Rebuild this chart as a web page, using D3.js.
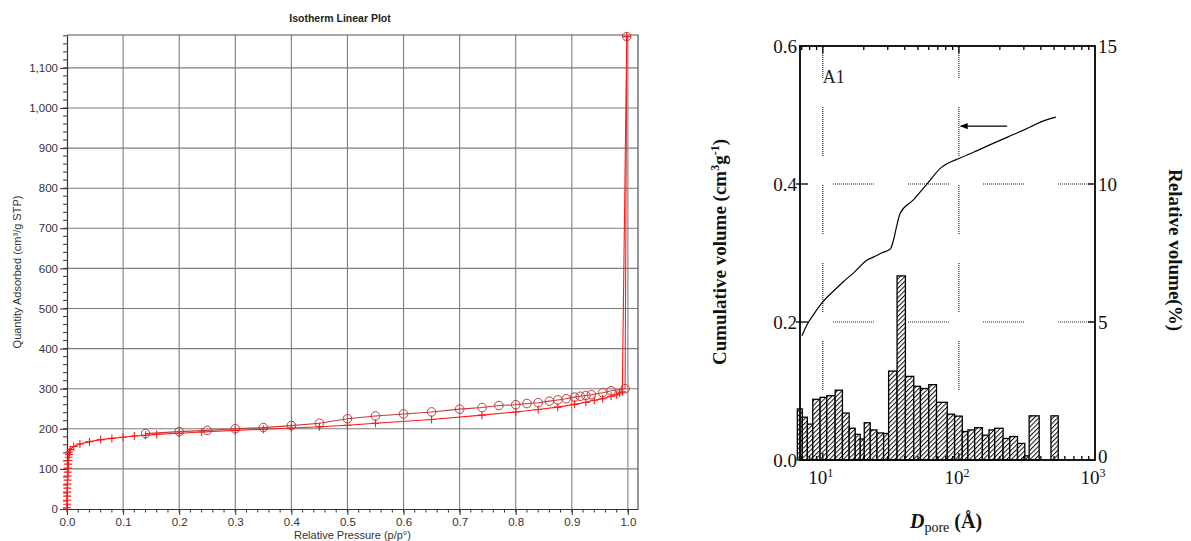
<!DOCTYPE html>
<html><head><meta charset="utf-8">
<script src="https://cdn.jsdelivr.net/npm/d3@7"></script>
<style>body{margin:0;background:#fff}</style>
</head><body><svg id="c" width="1191" height="541"></svg>
<script>
// ---------- DATA: Isotherm (left) ----------
const adsP = [0.0001,0.0002,0.0003,0.0004,0.0005,0.0006,0.0008,0.001,0.0012,0.0014,0.0017,0.002,0.0025,0.003,0.0035,0.004,0.006,0.012,0.023,0.04,0.06,0.08,0.10,0.12,0.14,0.16,0.20,0.24,0.30,0.35,0.40,0.45,0.50,0.55,0.65,0.74,0.80,0.84,0.875,0.905,0.925,0.94,0.955,0.97,0.98,0.985,0.99,0.998];
const adsQ = [3,12,22,32,42,52,62,72,82,92,102,112,121,129,136,142,148,156,162,168,173,176,179,182,184,186,189,192,196,199,202,205,209,214,223,234,242,248,254,261,266,271,275,281,285,289,292,1178];
const desP = [0.998,0.995,0.97,0.955,0.935,0.925,0.915,0.905,0.89,0.875,0.86,0.84,0.82,0.80,0.77,0.74,0.70,0.65,0.60,0.55,0.50,0.45,0.40,0.35,0.30,0.25,0.20,0.14];
const desQ = [1178,300,295,290,285,283,281,279,275,272,269,265,263,260,258,253,249,242,237,232,225,214,208,203,200,196,193,188];
const isoXTicks = [0,0.1,0.2,0.3,0.4,0.5,0.6,0.7,0.8,0.9,1.0];
const isoYTicks = [0,100,200,300,400,500,600,700,800,900,1000,1100];

// ---------- DATA: Pore size distribution (right) ----------
const binLo = [6.5,7.07,7.7,8.44,9.55,10.7,12.32,13.94,15.62,17.3,18.84,20.16,22.32,25.01,27.98,30.45,35.13,40.45,46.58,52.18,60.07,68.47,82.13,92.96,105.9,116.5,130.5,148.8,166.4,183.3,211.1,236.5,269.6,305.1,328.2,474.6];
const binHi = [7.07,7.7,8.44,9.55,10.7,12.32,13.94,15.62,17.3,18.84,20.16,22.32,25.01,27.98,30.45,35.13,40.45,46.58,52.18,60.07,68.47,82.13,92.96,105.9,116.5,130.5,148.8,166.4,183.3,211.1,236.5,269.6,305.1,328.2,388.9,537.0];
const relVol = [1.85,1.55,1.3,2.2,2.27,2.33,2.53,1.7,1.15,0.93,0.76,1.35,1.09,0.98,0.96,3.22,6.67,3.03,2.67,2.59,2.73,2.09,1.66,1.59,1.03,1.09,1.17,0.9,1.09,1.15,0.78,0.85,0.6,0.15,1.6,1.6];
const cumD = [7.03,7.65,8.5,10,12,14.1,17,21.2,23.5,27,31.4,33,35,37.1,46.3,58.8,73.3,103,128,170,228,338,400,516];
const cumV = [0.18,0.196,0.21,0.229,0.245,0.258,0.272,0.29,0.294,0.30,0.306,0.318,0.34,0.358,0.377,0.401,0.423,0.438,0.446,0.457,0.468,0.483,0.49,0.497];
const cumTicks = [0,0.2,0.4,0.6];
const relTicks = [0,5,10,15];
const decadeTicks = [10,100,1000];
const gridD = [10,100];
const arrowFrom = [226,0.484], arrowTo = [103,0.484];

const svg = d3.select('#c');
const defs = svg.append('defs');

// ================= LEFT CHART =================
const sans = 'Liberation Sans, Arial, sans-serif';
const xI = d3.scaleLinear().domain([0,1.018]).range([67,638]);
const yI = d3.scaleLinear().domain([0,1182]).range([509,35]);
const gL = svg.append('g');
const gridCol = '#7d7d7d';
gL.selectAll('line.vg').data(isoXTicks.filter(d=>d>0)).join('line')
  .attr('x1',d=>xI(d)).attr('x2',d=>xI(d)).attr('y1',yI.range()[0]).attr('y2',yI.range()[1])
  .attr('stroke',gridCol).attr('stroke-width',1.1);
gL.selectAll('line.hg').data(isoYTicks.filter(d=>d>0)).join('line')
  .attr('x1',xI.range()[0]).attr('x2',xI.range()[1]).attr('y1',d=>yI(d)).attr('y2',d=>yI(d))
  .attr('stroke',gridCol).attr('stroke-width',1.1);
gL.append('path').attr('d',`M${xI.range()[0]},${yI.range()[1]}H${xI.range()[1]}V${yI.range()[0]}`)
  .attr('fill','none').attr('stroke','#555').attr('stroke-width',1.2);

const yMinor = d3.range(0,1181,20);
gL.selectAll('line.ym').data(yMinor).join('line')
  .attr('x1',xI(0)-4).attr('x2',xI(0)).attr('y1',d=>yI(d)).attr('y2',d=>yI(d)).attr('stroke','#333');
const xMinor = d3.range(0,1.0001,0.02);
gL.selectAll('line.xm').data(xMinor).join('line')
  .attr('x1',d=>xI(d)).attr('x2',d=>xI(d)).attr('y1',yI(0)).attr('y2',yI(0)+3.5).attr('stroke','#333');

const axX = gL.append('g').attr('transform',`translate(0,${yI(0)})`)
  .call(d3.axisBottom(xI).tickValues(isoXTicks).tickFormat(d3.format('.1f')).tickSize(6).tickSizeOuter(0).tickPadding(3));
const axY = gL.append('g').attr('transform',`translate(${xI(0)},0)`)
  .call(d3.axisLeft(yI).tickValues(isoYTicks).tickFormat(d3.format(',')).tickSize(7).tickSizeOuter(0).tickPadding(2));
[axX,axY].forEach(a=>{
  a.selectAll('text').attr('font-family',sans).attr('font-size',11.5).attr('fill','#333');
  a.selectAll('line').attr('stroke','#333');
  a.select('.domain').attr('stroke','#333').attr('stroke-width',1.2);
});

const lineI = d3.line().x((d)=>xI(d[0])).y(d=>yI(d[1]));
const adsCol = '#ff1a1a', desCol = '#c23b3b';
const ads = adsP.map((p,i)=>[p,adsQ[i]]);
const des = desP.map((p,i)=>[p,desQ[i]]);
gL.append('path').attr('d',lineI(des)).attr('fill','none').attr('stroke',desCol).attr('stroke-width',1.1);
gL.append('path').attr('d',lineI(ads)).attr('fill','none').attr('stroke',adsCol).attr('stroke-width',1.1);
gL.selectAll('path.cr').data(ads).join('path')
  .attr('d',d=>{const x=xI(d[0]),y=yI(d[1]);return `M${x-4},${y}H${x+4}M${x},${y-4}V${y+4}`;})
  .attr('stroke',adsCol).attr('stroke-width',1.1).attr('fill','none');
gL.selectAll('circle.ci').data(des).join('circle')
  .attr('cx',d=>xI(d[0])).attr('cy',d=>yI(d[1])).attr('r',4.3)
  .attr('fill','none').attr('stroke',desCol).attr('stroke-width',1);

gL.append('text').attr('x',340).attr('y',22).attr('text-anchor','middle')
  .attr('font-family',sans).attr('font-weight','bold').attr('font-size',10.5).attr('fill','#222')
  .text('Isotherm Linear Plot');
gL.append('text').attr('x',(xI.range()[0]+xI.range()[1])/2).attr('y',539).attr('text-anchor','middle')
  .attr('font-family',sans).attr('font-size',11).attr('fill','#333')
  .text('Relative Pressure (p/p°)');
gL.append('text').attr('transform',`translate(21,${(yI.range()[0]+yI.range()[1])/2}) rotate(-90)`)
  .attr('text-anchor','middle').attr('font-family',sans).attr('font-size',11).attr('fill','#333')
  .text('Quantity Adsorbed (cm³/g STP)');

// ================= RIGHT CHART =================
const serif = 'Liberation Serif, Times New Roman, serif';
const xR = d3.scaleLog().domain([6.8,1000]).range([800,1095]);
const yV = d3.scaleLinear().domain([0,0.6]).range([460,46]);
const yP = d3.scaleLinear().domain([0,15]).range([460,46]);
const gR = svg.append('g');

function dotDash(dash,gap){const a=[];const n=Math.floor(dash/2);for(let i=0;i<n;i++)a.push(1,1);a[a.length-1]+=gap;return a.join(',');}
gR.selectAll('line.vg').data(gridD).join('line')
  .attr('x1',d=>xR(d)).attr('x2',d=>xR(d)).attr('y1',yV(0.6)).attr('y2',yV(0))
  .attr('stroke','#222').attr('stroke-width',1.2).attr('stroke-dasharray',dotDash(50,28)).attr('stroke-dashoffset',17);
gR.selectAll('line.hg').data([0.2,0.4]).join('line')
  .attr('x1',xR.range()[0]).attr('x2',xR.range()[1]).attr('y1',d=>yV(d)).attr('y2',d=>yV(d))
  .attr('stroke','#222').attr('stroke-width',1.2).attr('stroke-dasharray',dotDash(42,33)).attr('stroke-dashoffset',42);

const pat = defs.append('pattern').attr('id','hatch').attr('patternUnits','userSpaceOnUse')
  .attr('width',3.3).attr('height',3.3).attr('patternTransform','rotate(45)');
pat.append('rect').attr('width',3.3).attr('height',3.3).attr('fill','#fff');
pat.append('line').attr('x1',0.5).attr('x2',0.5).attr('y1',0).attr('y2',3.3).attr('stroke','#111').attr('stroke-width',1);

const bins = binLo.map((lo,i)=>({lo,hi:binHi[i],v:relVol[i]}));
gR.selectAll('rect.bar').data(bins).join('rect')
  .attr('x',d=>xR(d.lo)).attr('width',d=>xR(d.hi)-xR(d.lo))
  .attr('y',d=>yP(d.v)).attr('height',d=>yP(0)-yP(d.v))
  .attr('fill','url(#hatch)').attr('stroke','#000').attr('stroke-width',1.3);

const lineR = d3.line().x(d=>xR(d[0])).y(d=>yV(d[1])).curve(d3.curveMonotoneX);
gR.append('path').attr('d',lineR(cumD.map((d,i)=>[d,cumV[i]])))
  .attr('fill','none').attr('stroke','#000').attr('stroke-width',1.2);

// arrow (tip in +x of marker space)
defs.append('marker').attr('id','ah').attr('viewBox','0 0 10 10').attr('refX',9).attr('refY',5)
  .attr('markerWidth',6).attr('markerHeight',6).attr('markerUnits','strokeWidth').attr('orient','auto')
  .append('path').attr('d','M10,5L0,1L0,9Z').attr('fill','#000');
gR.append('line').attr('x1',xR(arrowFrom[0])).attr('x2',xR(arrowTo[0]))
  .attr('y1',yV(arrowFrom[1])).attr('y2',yV(arrowTo[1]))
  .attr('stroke','#000').attr('stroke-width',1.3).attr('marker-end','url(#ah)');

const [rx0,rx1] = xR.range();
gR.append('rect').attr('x',rx0).attr('y',yV(0.6)).attr('width',rx1-rx0).attr('height',yV(0)-yV(0.6))
  .attr('fill','none').attr('stroke','#000').attr('stroke-width',1.8);

const allT = xR.ticks().filter(d=>d>xR.domain()[0]&&d<1000);
allT.forEach(d=>{
  const major = decadeTicks.includes(d);
  const len = major?7:4;
  gR.append('line').attr('x1',xR(d)).attr('x2',xR(d)).attr('y1',yV(0.6)).attr('y2',yV(0.6)+len).attr('stroke','#000').attr('stroke-width',1.3);
  gR.append('line').attr('x1',xR(d)).attr('x2',xR(d)).attr('y1',yV(0)).attr('y2',yV(0)-len).attr('stroke','#000').attr('stroke-width',1.3);
});
cumTicks.filter(d=>d>0&&d<0.6).forEach(d=>{
  gR.append('line').attr('x1',rx0-4).attr('x2',rx0+8).attr('y1',yV(d)).attr('y2',yV(d)).attr('stroke','#000').attr('stroke-width',1.3);
});
relTicks.filter(d=>d>0&&d<15).forEach(d=>{
  gR.append('line').attr('x1',rx1-7).attr('x2',rx1).attr('y1',yP(d)).attr('y2',yP(d)).attr('stroke','#000').attr('stroke-width',1.3);
});
gR.selectAll('text.lt').data(cumTicks).join('text')
  .attr('x',rx0-3).attr('y',d=>yV(d)).attr('dy','0.36em').attr('text-anchor','end')
  .attr('font-family',serif).attr('font-size',19).attr('fill','#111').text(d3.format('.1f'));
gR.selectAll('text.rt').data(relTicks).join('text')
  .attr('x',rx1+3).attr('y',d=>yP(d)-(d===0?4:0)).attr('dy','0.36em').attr('text-anchor','start')
  .attr('font-family',serif).attr('font-size',19).attr('fill','#111').text(d=>d);
decadeTicks.forEach(d=>{
  const t = gR.append('text').attr('x',xR(d)-2).attr('y',484).attr('text-anchor','middle')
    .attr('font-family',serif).attr('font-size',19).attr('fill','#111');
  t.append('tspan').text('10');
  t.append('tspan').attr('dy',-7).attr('font-size',12).text(Math.round(Math.log10(d)));
});
gR.append('text').attr('x',xR(10)).attr('y',yV(0.546)).attr('font-family',serif).attr('font-size',18).attr('fill','#222').text('A1');

const tL = gR.append('text').attr('transform',`translate(726,252) rotate(-90)`).attr('text-anchor','middle')
  .attr('font-family',serif).attr('font-weight','bold').attr('font-size',19).attr('fill','#111');
tL.append('tspan').text('Cumulative volume (cm');
tL.append('tspan').attr('dy',-7).attr('font-size',12).text('3');
tL.append('tspan').attr('dy',7).text('g');
tL.append('tspan').attr('dy',-7).attr('font-size',12).text('-1');
tL.append('tspan').attr('dy',7).text(')');
gR.append('text').attr('transform',`translate(1169,250) rotate(90)`).attr('text-anchor','middle')
  .attr('font-family',serif).attr('font-weight','bold').attr('font-size',19).attr('fill','#111')
  .text('Relative volume(%)');
const tX = gR.append('text').attr('x',946).attr('y',528).attr('text-anchor','middle')
  .attr('font-family',serif).attr('font-weight','bold').attr('font-size',20).attr('fill','#111');
tX.append('tspan').attr('font-style','italic').text('D');
tX.append('tspan').attr('dy',4).attr('font-size',14).attr('font-weight','normal').text('pore');
tX.append('tspan').attr('dy',-4).text(' (Å)');
</script></body></html>
